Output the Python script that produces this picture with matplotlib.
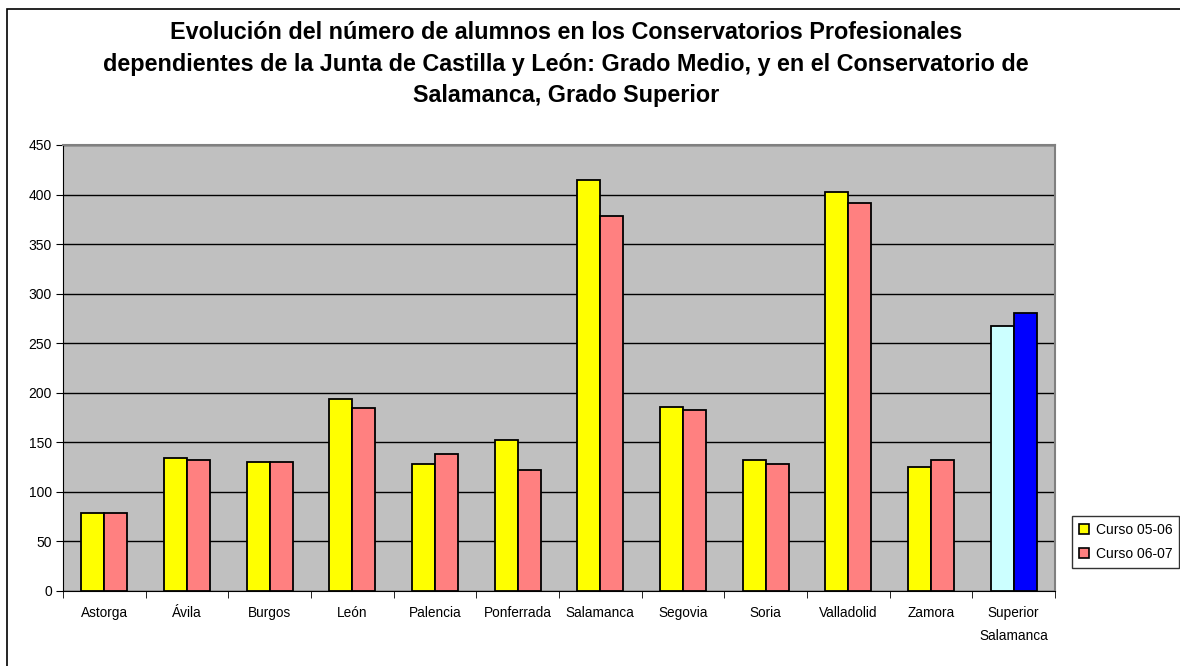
import numpy as np
import matplotlib.pyplot as plt
from matplotlib.patches import Rectangle, Patch

plt.rcParams['font.family'] = ['Liberation Sans', 'DejaVu Sans']

# data
centros = ['Astorga', 'Ávila', 'Burgos', 'León', 'Palencia', 'Ponferrada',
           'Salamanca', 'Segovia', 'Soria', 'Valladolid', 'Zamora',
           'Superior\nSalamanca']
curso_05_06 = [79, 134, 130, 194, 128, 152, 415, 186, 132, 403, 125, 267]
curso_06_07 = [79, 132, 130, 185, 138, 122, 378, 183, 128, 391, 132, 280]
series_names = ['Curso 05-06', 'Curso 06-07']

titulo = ('Evolución del número de alumnos en los Conservatorios Profesionales\n'
          'dependientes de la Junta de Castilla y León: Grado Medio, y en el Conservatorio de\n'
          'Salamanca, Grado Superior')

fig = plt.figure(figsize=(11.8, 6.66), dpi=100)
# outer chart frame (cut off at right and bottom in the original)
fig.patches.append(Rectangle((7 / 1180, -0.1), 1.2, (666 - 9) / 666 + 0.1,
                             transform=fig.transFigure, fill=False,
                             edgecolor='black', linewidth=1.2))

ax = fig.add_axes([63 / 1180, 1 - 591 / 666, 992 / 1180, 446 / 666])
ax.set_facecolor('#C0C0C0')

x = np.arange(len(centros))
w = 0.28
col1 = ['#FFFF00'] * (len(centros) - 1) + ['#CCFFFF']
col2 = ['#FF8080'] * (len(centros) - 1) + ['#0000FF']
ax.bar(x - w / 2, curso_05_06, w, color=col1, edgecolor='black', linewidth=1.3, zorder=3)
ax.bar(x + w / 2, curso_06_07, w, color=col2, edgecolor='black', linewidth=1.3, zorder=3)

ax.set_xlim(-0.5, len(centros) - 0.5)
ax.set_ylim(0, 450)
ax.set_yticks(np.arange(0, 451, 50))
ax.yaxis.grid(True, color='black', linewidth=1.0, zorder=1)
ax.set_axisbelow(True)

ax.set_xticks(x)
ax.set_xticklabels(centros, fontsize=9.8, linespacing=1.75)
ax.set_xticks(np.arange(-0.5, len(centros)), minor=True)
ax.tick_params(axis='x', which='major', length=0, pad=11)
ax.tick_params(axis='x', which='minor', length=5, direction='out', color='black')
ax.tick_params(axis='y', length=5, direction='out', labelsize=10, pad=3)

for s in ['top', 'right']:
    ax.spines[s].set_color('#808080')
    ax.spines[s].set_linewidth(1.5)
ax.spines['left'].set_color('black')
ax.spines['bottom'].set_color('black')

fig.text(566 / 1180, 1 - 64 / 666, titulo, ha='center', va='center',
         fontsize=16.8, fontweight='bold', linespacing=1.48)

handles = [Patch(facecolor='#FFFF00', edgecolor='black', linewidth=1.2),
           Patch(facecolor='#FF8080', edgecolor='black', linewidth=1.2)]
leg = fig.legend(handles, series_names, loc='center left',
                 bbox_to_anchor=(1072 / 1180, 1 - 542 / 666),
                 fontsize=10, frameon=True, fancybox=False, edgecolor='black',
                 handlelength=0.7, handleheight=0.7, handletextpad=0.5,
                 labelspacing=0.7, borderpad=0.5, borderaxespad=0)
leg.get_frame().set_linewidth(1.0)

fig.savefig('out.png', dpi=100)
